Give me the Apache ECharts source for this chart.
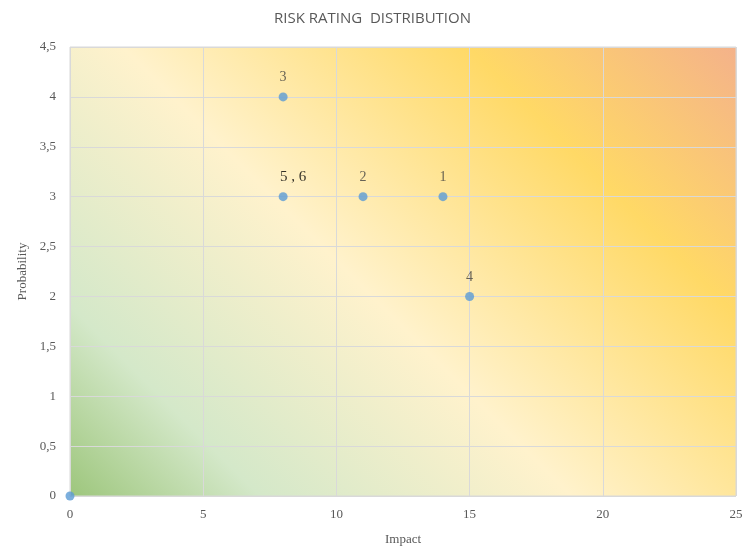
<!DOCTYPE html>
<html><head><meta charset="utf-8">
<script src="https://cdn.jsdelivr.net/npm/echarts@6/dist/echarts.min.js"></script>
<style>html,body{margin:0;padding:0;background:#fff}#c{width:745px;height:546px}</style>
</head><body><div id="c"></div>
<script>
const impact = [0, 8, 8, 11, 14, 15];
const probability = [0, 4, 3, 3, 3, 2];
const pointLabels = ['', '3', '5 , 6', '2', '1', '4'];
const xTicks = [0, 5, 10, 15, 20, 25];
const yTicks = [0, 0.5, 1, 1.5, 2, 2.5, 3, 3.5, 4, 4.5];

const chart = echarts.init(document.getElementById('c'), null, {renderer: 'canvas'});
const gL = 70, gT = 47, gR = 736, gB = 496;
const d = ((gR - gL) + (gB - gT)) / 2;
const bg = new echarts.graphic.LinearGradient(gL, gB, gL + d, gB - d, [
  {offset: 0, color: '#9dc67c'},
  {offset: 0.17, color: '#d4e8c9'},
  {offset: 0.45, color: '#fff2cc'},
  {offset: 0.76, color: '#ffd966'},
  {offset: 1, color: '#f4b28a'}
], true);

const serif = '"Liberation Serif", "DejaVu Serif", serif';
chart.setOption({
  animation: false,
  title: {
    text: 'RISK RATING  DISTRIBUTION', left: 'center', top: 6,
    textStyle: {fontFamily: '"Open Sans", sans-serif', fontSize: 15, fontWeight: 'normal', color: '#595959'}
  },
  grid: {left: gL, top: gT, right: 745 - gR, bottom: 546 - gB, show: true,
    containLabel: false, outerBoundsMode: 'none',
    backgroundColor: bg, borderColor: '#d9d9d9', borderWidth: 1},
  xAxis: {
    type: 'value', min: 0, max: 25, interval: 5,
    name: 'Impact', nameLocation: 'middle', nameGap: 37,
    nameTextStyle: {fontFamily: serif, fontSize: 13, color: '#595959'},
    axisLine: {show: false}, axisTick: {show: false},
    axisLabel: {fontFamily: serif, fontSize: 13, color: '#595959', margin: 12},
    splitLine: {show: true, lineStyle: {color: '#d9d9d9', width: 1}}
  },
  yAxis: {
    type: 'value', min: 0, max: 4.5, interval: 0.5,
    name: 'Probability', nameLocation: 'middle', nameGap: 41,
    nameTextStyle: {fontFamily: serif, fontSize: 13, color: '#595959'},
    axisLine: {show: false}, axisTick: {show: false},
    axisLabel: {fontFamily: serif, fontSize: 13, color: '#595959', margin: 14,
      formatter: v => String(v).replace('.', ',')},
    splitLine: {show: true, lineStyle: {color: '#d9d9d9', width: 1}}
  },
  series: [{
    type: 'scatter', symbolSize: 9,
    itemStyle: {color: '#5b9bd5'},
    data: impact.map((x, i) => ({
      value: [x, probability[i]],
      label: {
        show: pointLabels[i] !== '', formatter: pointLabels[i], position: 'top', distance: 8,
        offset: pointLabels[i] === '5 , 6' ? [10, 0] : [0, 0],
        fontFamily: serif,
        fontSize: pointLabels[i] === '5 , 6' ? 15 : 14,
        color: pointLabels[i] === '5 , 6' ? '#000' : '#404040'
      }
    }))
  }]
});
</script></body></html>
